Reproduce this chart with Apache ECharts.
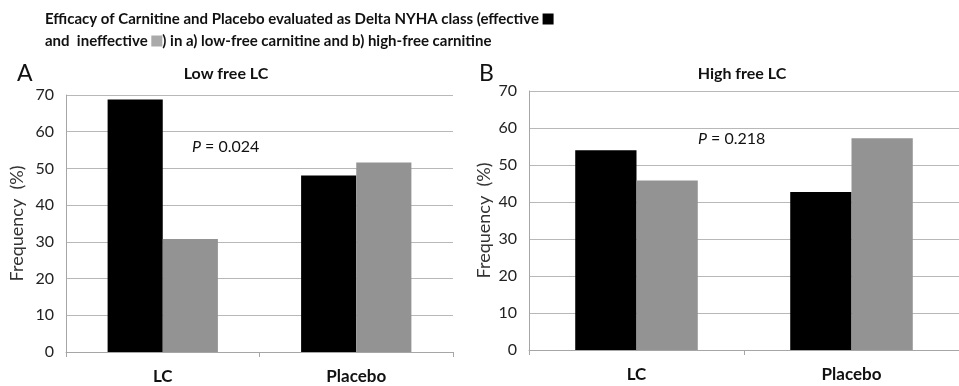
<!DOCTYPE html>
<html><head><meta charset="utf-8">
<script src="https://cdn.jsdelivr.net/npm/echarts@6/dist/echarts.min.js"></script>
<style>html,body{margin:0;padding:0;background:#fff}#c{width:959px;height:386px}</style>
</head><body><div id="c"></div>
<script>
const categories = ['LC', 'Placebo'];
const lowEffective = [68.8, 48.1];
const lowIneffective = [30.8, 51.6];
const highEffective = [54.0, 42.7];
const highIneffective = [45.8, 57.2];
const yTicks = { min: 0, max: 70, interval: 10 };
const pLow = '0.024';
const pHigh = '0.218';

const FONT = 'Lato';
const chart = echarts.init(document.getElementById('c'));
function yAxis(gi, gap) {
  return {
    type: 'value', gridIndex: gi, min: yTicks.min, max: yTicks.max, interval: yTicks.interval,
    name: 'Frequency  (%)', nameLocation: 'middle', nameGap: gap,
    nameTextStyle: { fontFamily: FONT, fontSize: 18, color: '#333' },
    axisLine: { show: true, lineStyle: { color: '#a6a6a6' } },
    axisTick: { show: false },
    axisLabel: { fontFamily: FONT, fontSize: 16, color: '#222', margin: 12 },
    splitLine: { lineStyle: { color: '#b8b8b8' } }
  };
}
function xAxis(gi) {
  return {
    type: 'category', gridIndex: gi, data: categories,
    axisLine: { lineStyle: { color: '#a6a6a6' } },
    axisTick: { show: true, length: 5, lineStyle: { color: '#a6a6a6' } },
    axisLabel: { fontFamily: FONT, fontSize: 17, fontWeight: 'bold', color: '#111', margin: 16 }
  };
}
function bar(xi, data, color) {
  return { type: 'bar', xAxisIndex: xi, yAxisIndex: xi, data: data, barGap: '0%', barCategoryGap: '43%',
    itemStyle: { color: color }, silent: true };
}
const pStyle = { fontFamily: FONT, fontSize: 16, fontWeight: 'normal', color: '#111',
  rich: { i: { fontStyle: 'italic', fontSize: 16, fontFamily: FONT, color: '#111' } } };
chart.setOption({
  animation: false,
  textStyle: { fontFamily: FONT },
  title: [
    { left: 40, top: 3, text: 'Efficacy of Carnitine and Placebo evaluated as Delta NYHA class (effective {b|}\nand  ineffective {g|}) in a) low-free carnitine and b) high-free carnitine',
      textStyle: { fontFamily: FONT, fontSize: 15, fontWeight: 'bold', color: '#111', lineHeight: 22,
        rich: { b: { backgroundColor: '#000', width: 11, height: 11 }, g: { backgroundColor: '#aaa', width: 11, height: 11 } } } },
    { left: 12, top: 57, text: 'A', textStyle: { fontFamily: FONT, fontSize: 23, fontWeight: 'normal', color: '#111' } },
    { left: 474, top: 57, text: 'B', textStyle: { fontFamily: FONT, fontSize: 23, fontWeight: 'normal', color: '#111' } },
    { left: 221, top: 61, textAlign: 'center', text: 'Low free LC', textStyle: { fontFamily: FONT, fontSize: 16, fontWeight: 'bold', color: '#111' } },
    { left: 737, top: 61, textAlign: 'center', text: 'High free LC', textStyle: { fontFamily: FONT, fontSize: 16, fontWeight: 'bold', color: '#111' } },
    { left: 187, top: 134, text: '{i|P} = ' + pLow, textStyle: pStyle },
    { left: 693, top: 126, text: '{i|P} = ' + pHigh, textStyle: pStyle }
  ],
  grid: [
    { left: 66, right: 506, top: 95, bottom: 34 },
    { left: 529, right: -11, top: 91, bottom: 36 }
  ],
  xAxis: [xAxis(0), xAxis(1)],
  yAxis: [yAxis(0, 40), yAxis(1, 36)],
  series: [
    bar(0, lowEffective, '#000000'), bar(0, lowIneffective, '#939393'),
    bar(1, highEffective, '#000000'), bar(1, highIneffective, '#939393')
  ]
});
</script></body></html>
